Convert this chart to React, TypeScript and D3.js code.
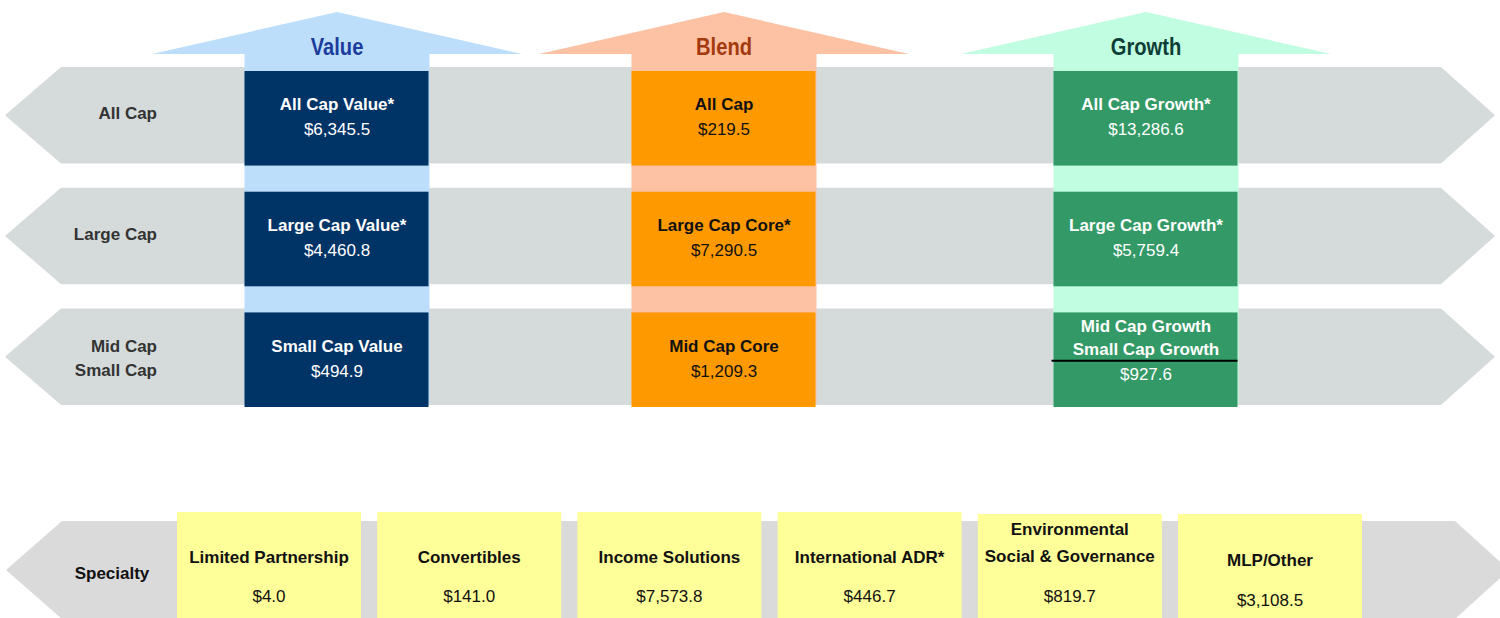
import * as d3 from "d3";

// style columns across the top
const styles = ["Value", "Blend", "Growth"];
const styleTitleColors = ["#1c3c9c", "#a33a0e", "#0d3d36"];
const styleArrowColors = ["#bddefb", "#fdc1a3", "#c1fde0"];
const styleCellColors = ["#003366", "#ff9900", "#339966"];
const styleTextColors = ["#ffffff", "#111111", "#ffffff"];

// market cap rows
const capRows = ["All Cap", "Large Cap", "Mid Cap\nSmall Cap"];

// assets by style, one entry per cap row ($ millions)
const valueFunds = ["All Cap Value*", "Large Cap Value*", "Small Cap Value"];
const valueAssets = [6345.5, 4460.8, 494.9];
const blendFunds = ["All Cap", "Large Cap Core*", "Mid Cap Core"];
const blendAssets = [219.5, 7290.5, 1209.3];
const growthFunds = ["All Cap Growth*", "Large Cap Growth*", "Mid Cap Growth\nSmall Cap Growth"];
const growthAssets = [13286.6, 5759.4, 927.6];

// specialty row
const specialtyFunds = [
  "Limited Partnership",
  "Convertibles",
  "Income Solutions",
  "International ADR*",
  "Environmental\nSocial & Governance",
  "MLP/Other",
];
const specialtyAssets = [4.0, 141.0, 7573.8, 446.7, 819.7, 3108.5];

const W = 1500;
const H = 618;
const FONT = "'Liberation Sans', Arial, Helvetica, sans-serif";
const fmt = d3.format("$,.1f");

export default function App() {
  const funds = [valueFunds, blendFunds, growthFunds];
  const assets = [valueAssets, blendAssets, growthAssets];

  // column centres are not evenly spaced in the original layout
  const x = d3.scaleOrdinal<string, number>().domain(styles).range([337, 724, 1146]);
  const y = d3.scaleBand<string>().domain(capRows).range([67, 405]).paddingInner(0.2);
  const bw = y.bandwidth();
  const shaft = 185;
  const head = 370;

  const sx = d3.scaleBand<string>().domain(specialtyFunds).range([177, 1362]).paddingInner(0.081);
  const specTop = 521;
  const specBottom = 619;

  const bandPath = (y0: number, y1: number, left: number, right: number) => {
    const mid = (y0 + y1) / 2;
    const d = d3.path();
    d.moveTo(left + 56, y0);
    d.lineTo(right - 54, y0);
    d.lineTo(right, mid);
    d.lineTo(right - 54, y1);
    d.lineTo(left + 56, y1);
    d.lineTo(left, mid);
    d.closePath();
    return d.toString();
  };

  const arrowPath = (cx: number) => {
    const d = d3.path();
    d.moveTo(cx, 12);
    d.lineTo(cx + head / 2, 54);
    d.lineTo(cx + shaft / 2, 54);
    d.lineTo(cx + shaft / 2, 404);
    d.lineTo(cx - shaft / 2, 404);
    d.lineTo(cx - shaft / 2, 54);
    d.lineTo(cx - head / 2, 54);
    d.closePath();
    return d.toString();
  };

  return (
    <svg
      width={W}
      height={H}
      style={{ position: "absolute", left: 0, top: 0, fontFamily: FONT }}
    >
      <rect width={W} height={H} fill="#ffffff" />

      {/* grey cap bands */}
      {capRows.map((r) => (
        <path key={r} d={bandPath(y(r)!, y(r)! + bw, 5, 1495)} fill="#d5dbdb" />
      ))}

      {/* style arrows */}
      {styles.map((s, i) => (
        <g key={s}>
          <path d={arrowPath(x(s))} fill={styleArrowColors[i]} />
          <text
            transform={`translate(${x(s)},55) scale(0.84,1)`}
            textAnchor="middle"
            fontSize={24}
            fontWeight="bold"
            fill={styleTitleColors[i]}
          >
            {s}
          </text>
        </g>
      ))}

      {/* row labels */}
      {capRows.map((r) => {
        const lines = r.split("\n");
        const mid = y(r)! + bw / 2;
        const shift = lines.length > 1 ? 3 : 0;
        return (
          <text key={r} textAnchor="end" fontSize={17} fontWeight="bold" fill="#333333">
            {lines.map((l, j) => (
              <tspan key={l} x={157} y={mid + 4 + shift + (j - (lines.length - 1) / 2) * 24}>
                {l}
              </tspan>
            ))}
          </text>
        );
      })}

      {/* fund cells */}
      {styles.map((s, i) =>
        capRows.map((r, k) => {
          const cx = x(s);
          const top = y(r)! + 4;
          const bottom = y(r)! + bw + 2;
          const cc = (top + bottom) / 2;
          const lines = funds[i][k].split("\n");
          const n = lines.length;
          const shift = n > 1 ? 3 : 0;
          return (
            <g key={s + r}>
              <rect
                x={cx - shaft / 2}
                y={top}
                width={shaft - 1}
                height={bottom - top}
                fill={styleCellColors[i]}
              />
              {lines.map((l, j) => (
                <text
                  key={l}
                  x={cx}
                  y={cc - 8 - (n - 1 - j) * 23 + shift}
                  textAnchor="middle"
                  fontSize={17}
                  fontWeight="bold"
                  fill={styleTextColors[i]}
                >
                  {l}
                </text>
              ))}
              {n > 1 && (
                <line
                  x1={cx - shaft / 2 - 2}
                  x2={cx + shaft / 2 - 1}
                  y1={cc + 1}
                  y2={cc + 1}
                  stroke="#000000"
                  strokeWidth={2}
                />
              )}
              <text
                x={cx}
                y={cc + 17 + shift}
                textAnchor="middle"
                fontSize={17}
                fill={styleTextColors[i]}
              >
                {fmt(assets[i][k])}
              </text>
            </g>
          );
        })
      )}

      {/* specialty band */}
      <path d={bandPath(specTop, specBottom, 6, 1509)} fill="#dadada" />
      <text x={112} y={579} textAnchor="middle" fontSize={17} fontWeight="bold" fill="#111111">
        Specialty
      </text>
      {specialtyFunds.map((f, i) => {
        const bx = sx(f)!;
        const cx = bx + sx.bandwidth() / 2;
        const lines = f.split("\n");
        const n = lines.length;
        const top = i >= 4 ? 514 : 512;
        const labelBase = n > 1 ? 562 : i === 5 ? 566 : 563;
        const valueBase = i === 5 ? 606 : 602;
        return (
          <g key={f}>
            <rect x={bx} y={top} width={sx.bandwidth()} height={H - top + 2} fill="#ffff99" />
            {lines.map((l, j) => (
              <text
                key={l}
                x={cx}
                y={labelBase - (n - 1 - j) * 27}
                textAnchor="middle"
                fontSize={17}
                fontWeight="bold"
                fill="#111111"
              >
                {l}
              </text>
            ))}
            <text x={cx} y={valueBase} textAnchor="middle" fontSize={17} fill="#111111">
              {fmt(specialtyAssets[i])}
            </text>
          </g>
        );
      })}
    </svg>
  );
}
